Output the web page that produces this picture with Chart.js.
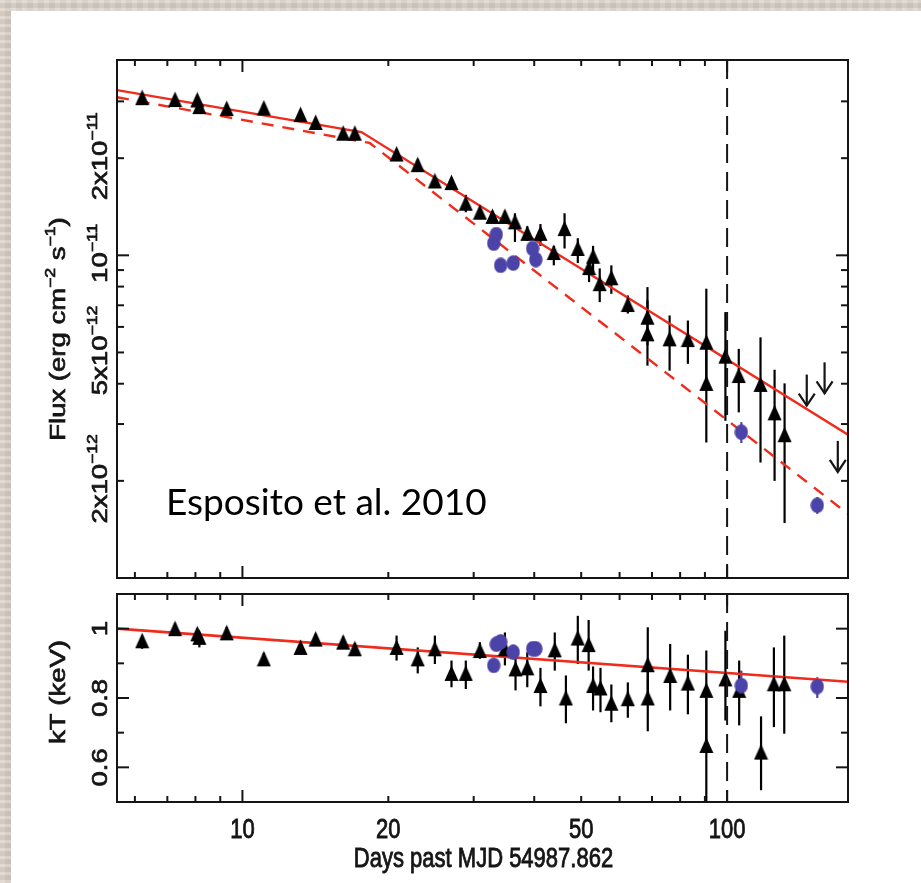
<!DOCTYPE html>
<html>
<head>
<meta charset="utf-8">
<script src="https://cdn.jsdelivr.net/npm/chart.js@4.4.1/dist/chart.umd.min.js"></script>
<style>
    html, body { margin: 0; padding: 0; }
    body {
        width: 921px; height: 883px; position: relative; overflow: hidden;
        background:
            repeating-linear-gradient(0deg, rgba(255,255,255,0.18) 0 3px, rgba(90,70,60,0.06) 3px 8px),
            repeating-linear-gradient(90deg, rgba(255,255,255,0.10) 0 5px, rgba(90,70,60,0.05) 5px 11px),
            #d7cfc6;
    }
    #sheet { position: absolute; left: 11px; top: 11px; right: 0; bottom: 0; background: #fff; }
    canvas { position: absolute; left: 0; }
    #fluxCanvas { top: 0; }
    #ktCanvas { top: 586px; }
    #cite {
        position: absolute; left: 166px; top: 482px;
        font: 37px Lato, "Open Sans", sans-serif; color: #000; line-height: 1; white-space: nowrap;
    }
</style>
</head>
<body>
<div id="sheet"></div>
<canvas id="fluxCanvas" width="921" height="590"></canvas>
<canvas id="ktCanvas" width="921" height="297"></canvas>
<div id="cite">Esposito et al. 2010</div>

<script>
// ---- time axis (days past MJD 54987.862) ----
const X_MIN = 5.511;
const X_MAX = 177.6;
const xMinorTicks = [6, 7, 8, 9, 20, 30, 40, 50, 60, 70, 80, 90];
const xMajorTicks = [10, 100];
const xLabelTicks = [10, 20, 50, 100];
const REF_DAY = 100;   // vertical dashed marker

// ---- flux panel: Swift triangles ----
const fluxDays = [6.21, 7.26, 8.07, 8.15, 9.28, 11.07, 13.18, 14.16, 16.14, 17.06,
                  20.8, 23.0, 24.95, 27.0, 28.9, 30.9, 32.8, 34.8, 36.5, 38.7,
                  41.2, 43.9, 46.2, 49.2, 51.9, 52.9, 54.6, 57.7, 62.4, 68.5,
                  68.5, 76.1, 83.0, 90.6, 90.6, 99.2, 105.7, 117.2, 125.3, 131.4];
const fluxValues = [3.08e-11, 3.04e-11, 3.03e-11, 2.89e-11, 2.85e-11, 2.86e-11, 2.73e-11, 2.58e-11, 2.39e-11, 2.39e-11,
                    2.06e-11, 1.91e-11, 1.70e-11, 1.68e-11, 1.45e-11, 1.36e-11, 1.32e-11, 1.32e-11, 1.27e-11, 1.17e-11,
                    1.17e-11, 1.02e-11, 1.21e-11, 1.05e-11, 9.16e-12, 9.93e-12, 8.17e-12, 8.52e-12, 7.04e-12, 6.43e-12,
                    5.71e-12, 5.51e-12, 5.48e-12, 5.38e-12, 4.01e-12, 4.87e-12, 4.24e-12, 3.98e-12, 3.25e-12, 2.78e-12];
const fluxLow = [3.00e-11, 2.96e-11, 2.95e-11, 2.81e-11, 2.77e-11, 2.78e-11, 2.65e-11, 2.50e-11, 2.32e-11, 2.32e-11,
                 1.99e-11, 1.84e-11, 1.64e-11, 1.62e-11, 1.36e-11, 1.31e-11, 1.27e-11, 1.27e-11, 1.10e-11, 1.11e-11,
                 1.07e-11, 9.31e-12, 1.05e-11, 9.46e-12, 8.26e-12, 8.67e-12, 7.16e-12, 7.60e-12, 6.60e-12, 5.26e-12,
                 4.55e-12, 4.39e-12, 4.61e-12, 4.00e-12, 2.63e-12, 3.07e-12, 3.26e-12, 2.28e-12, 2.00e-12, 1.48e-12];
const fluxHigh = [3.16e-11, 3.12e-11, 3.11e-11, 2.97e-11, 2.93e-11, 2.94e-11, 2.81e-11, 2.66e-11, 2.46e-11, 2.46e-11,
                  2.13e-11, 1.98e-11, 1.76e-11, 1.74e-11, 1.54e-11, 1.41e-11, 1.37e-11, 1.37e-11, 1.35e-11, 1.23e-11,
                  1.25e-11, 1.07e-11, 1.35e-11, 1.13e-11, 9.65e-12, 1.07e-11, 9.11e-12, 9.31e-12, 7.51e-12, 7.97e-12,
                  7.25e-12, 6.51e-12, 6.28e-12, 7.88e-12, 5.40e-12, 6.67e-12, 5.13e-12, 5.57e-12, 4.42e-12, 4.01e-12];

// ---- flux panel: XMM circles ----
const xmmDays = [33.0, 33.4, 34.1, 36.2, 39.7, 40.3, 107, 153.5];
const xmmFlux = [1.09e-11, 1.16e-11, 9.31e-12, 9.46e-12, 1.05e-11, 9.70e-12, 2.83e-12, 1.68e-12];
const xmmFluxLow = [1.04e-11, 1.11e-11, 8.90e-12, 9.05e-12, 1.00e-11, 9.25e-12, 2.62e-12, 1.58e-12];
const xmmFluxHigh = [1.14e-11, 1.21e-11, 9.72e-12, 9.87e-12, 1.10e-11, 1.02e-11, 3.04e-12, 1.78e-12];

// ---- flux panel: upper limits ----
const limitDays = [146, 158.9, 169.2];
const limitFlux = [4.27e-12, 4.66e-12, 2.66e-12];

// ---- flux panel: broken power-law models ----
const modelDays = [5.511, 17.6, 177.6];
const modelFlux = [3.25e-11, 2.41e-11, 2.78e-12];
const modelDashDays = [5.511, 18.3, 177.6];
const modelDashFlux = [3.09e-11, 2.23e-11, 1.58e-12];

const fluxMinorTicks = [2e-12, 3e-12, 4e-12, 5e-12, 6e-12, 7e-12, 8e-12, 9e-12, 2e-11, 3e-11];
const fluxMajorTicks = [1e-11];
const fluxTickLabels = [
    { v: 2e-11, parts: [{ t: '2x10' }, { t: '\u221211', sup: true }] },
    { v: 1e-11, parts: [{ t: '10' }, { t: '\u221211', sup: true }] },
    { v: 5e-12, parts: [{ t: '5x10' }, { t: '\u221212', sup: true }] },
    { v: 2e-12, parts: [{ t: '2x10' }, { t: '\u221212', sup: true }] }
];

// ---- kT panel ----
const ktDays = [6.21, 7.26, 8.07, 8.15, 9.28, 11.07, 13.18, 14.16, 16.14, 17.06,
                20.8, 23.0, 24.95, 27.0, 28.9, 30.9, 34.8, 36.6, 38.7, 41.2,
                44.1, 46.5, 49.2, 51.8, 52.9, 54.8, 57.7, 62.4, 68.6, 68.6,
                76.3, 83.0, 90.6, 90.6, 99.2, 105.9, 117.5, 124.9, 131.2];
const ktValues = [0.965, 1.0, 0.985, 0.975, 0.988, 0.913, 0.946, 0.970, 0.961, 0.942,
                  0.946, 0.913, 0.942, 0.871, 0.871, 0.937, 0.942, 0.884, 0.887, 0.836,
                  0.939, 0.800, 0.973, 0.954, 0.836, 0.829, 0.785, 0.798, 0.896, 0.800,
                  0.865, 0.843, 0.822, 0.663, 0.855, 0.822, 0.644, 0.841, 0.841];
const ktLow = [0.942, 0.985, 0.970, 0.946, 0.970, 0.895, 0.930, 0.955, 0.945, 0.926,
               0.908, 0.871, 0.898, 0.831, 0.826, 0.913, 0.894, 0.822, 0.831, 0.776,
               0.879, 0.727, 0.898, 0.879, 0.764, 0.759, 0.730, 0.743, 0.800, 0.704,
               0.764, 0.753, 0.663, 0.450, 0.735, 0.721, 0.534, 0.716, 0.697];
const ktHigh = [0.980, 1.015, 1.000, 0.990, 1.005, 0.930, 0.962, 0.985, 0.977, 0.958,
                0.980, 0.946, 0.980, 0.908, 0.908, 0.961, 0.989, 0.922, 0.932, 0.887,
                0.989, 0.865, 1.037, 1.025, 0.891, 0.887, 0.839, 0.845, 1.004, 0.896,
                0.956, 0.925, 0.937, 0.800, 0.994, 0.908, 0.747, 0.946, 0.980];

const xmmKt = [0.894, 0.955, 0.962, 0.932, 0.942, 0.942, 0.836, 0.833];
const xmmKtLow = [0.874, 0.935, 0.942, 0.912, 0.925, 0.925, 0.802, 0.800];
const xmmKtHigh = [0.914, 0.975, 0.982, 0.952, 0.959, 0.959, 0.879, 0.860];

const ktModelDays = [5.511, 177.6];
const ktModelValues = [1.0, 0.847];

const ktMinorTicks = [0.7, 0.9];
const ktMajorTicks = [0.6, 0.8, 1.0];
const ktTickLabels = [
    { v: 1.0, parts: [{ t: '1' }] },
    { v: 0.8, parts: [{ t: '0.8' }] },
    { v: 0.6, parts: [{ t: '0.6' }] }
];

// ---- styles ----
const RED = '#f02b1c';
const BLUE = '#4c43a8';
const INK = '#151515';
const FONT = '"Liberation Sans", Arial, sans-serif';
const LABEL_SIZE = 22;
const STRETCH = 1.25;     // the figure is taller than it is wide: glyphs and markers stretched vertically

function pairs(xs, ys) {
    return xs.map((x, i) => ({ x: x, y: ys[i] }));
}

// marker sprites, a little taller than wide
function sprite(w, h, draw) {
    const c = document.createElement('canvas');
    c.width = w; c.height = h;
    const g = c.getContext('2d');
    draw(g, w, h);
    return c;
}
const triangleMark = sprite(15, 17, (g, w, h) => {
    g.fillStyle = '#000';
    g.beginPath();
    g.moveTo(w / 2, 0.5);
    g.lineTo(w - 0.5, h - 1);
    g.lineTo(0.5, h - 1);
    g.closePath();
    g.fill();
});
const circleMark = sprite(14, 16, (g, w, h) => {
    g.fillStyle = BLUE;
    g.beginPath();
    g.ellipse(w / 2, h / 2, w / 2 - 0.3, h / 2 - 0.3, 0, 0, Math.PI * 2);
    g.fill();
});

// text pieces, superscripts smaller and raised
function runWidth(ctx, parts, size) {
    let w = 0;
    parts.forEach(p => {
        ctx.font = (p.sup ? size * 0.64 : size) + 'px ' + FONT;
        w += ctx.measureText(p.t).width;
    });
    return w;
}

function drawRun(ctx, parts, size, x, y) {
    ctx.lineWidth = 0.7;
    ctx.strokeStyle = INK;
    parts.forEach(p => {
        const s = p.sup ? size * 0.64 : size;
        const py = p.sup ? y - size * 0.45 : y;
        ctx.font = s + 'px ' + FONT;
        ctx.fillText(p.t, x, py);
        ctx.strokeText(p.t, x, py);
        x += ctx.measureText(p.t).width;
    });
}

// rotated to read bottom-to-top; baseline on the x = bx line, centred on cy
function drawVertical(ctx, parts, size, bx, cy) {
    ctx.save();
    ctx.translate(bx, cy);
    ctx.rotate(-Math.PI / 2);
    ctx.scale(STRETCH, 1);
    ctx.textAlign = 'left';
    ctx.textBaseline = 'alphabetic';
    ctx.fillStyle = INK;
    drawRun(ctx, parts, size, -runWidth(ctx, parts, size) / 2, 0);
    ctx.restore();
}

// horizontal text centred on cx, baseline at by
function drawHorizontal(ctx, text, size, cx, by) {
    ctx.save();
    ctx.translate(cx, by);
    ctx.scale(1, STRETCH);
    ctx.textAlign = 'left';
    ctx.textBaseline = 'alphabetic';
    ctx.fillStyle = INK;
    const parts = [{ t: text }];
    drawRun(ctx, parts, size, -runWidth(ctx, parts, size) / 2, 0);
    ctx.restore();
}

function line(ctx, x1, y1, x2, y2) {
    ctx.beginPath();
    ctx.moveTo(x1, y1);
    ctx.lineTo(x2, y2);
    ctx.stroke();
}

// error bars for every dataset carrying errLow / errHigh
const errorBars = {
    id: 'errorBars',
    beforeDatasetsDraw(chart) {
        const { ctx, chartArea: a, scales: { x, y } } = chart;
        ctx.save();
        ctx.beginPath();
        ctx.rect(a.left, a.top, a.right - a.left, a.bottom - a.top);
        ctx.clip();
        chart.data.datasets.forEach(ds => {
            if (!ds.errLow) return;
            ctx.strokeStyle = ds.barColor;
            ctx.lineWidth = 2.2;
            ds.data.forEach((p, i) => {
                const px = x.getPixelForValue(p.x);
                line(ctx, px, y.getPixelForValue(ds.errLow[i]), px, y.getPixelForValue(ds.errHigh[i]));
            });
        });
        ctx.restore();
    }
};

// dashed marker at day 100
const refLine = {
    id: 'refLine',
    afterDatasetsDraw(chart) {
        const { ctx, chartArea: a, scales: { x } } = chart;
        const px = x.getPixelForValue(REF_DAY);
        ctx.save();
        ctx.strokeStyle = INK;
        ctx.lineWidth = 2;
        ctx.setLineDash([19, 9]);
        line(ctx, px, a.top, px, a.bottom);
        ctx.restore();
    }
};

// downward arrows for the flux upper limits
const upperLimits = {
    id: 'upperLimits',
    afterDatasetsDraw(chart) {
        const { ctx, scales: { x, y } } = chart;
        ctx.save();
        ctx.strokeStyle = INK;
        ctx.lineWidth = 2.2;
        limitDays.forEach((d, i) => {
            const px = x.getPixelForValue(d);
            const top = y.getPixelForValue(limitFlux[i]);
            const tip = top + 31;
            line(ctx, px, top, px, tip);
            ctx.beginPath();
            ctx.moveTo(px - 8, tip - 12);
            ctx.lineTo(px, tip);
            ctx.lineTo(px + 8, tip - 12);
            ctx.stroke();
        });
        ctx.restore();
    }
};

// box, inward ticks on all four sides, rotated y labels
function framePlugin(cfg) {
    return {
        id: 'frame',
        afterDraw(chart) {
            const { ctx, chartArea: a, scales: { x, y } } = chart;
            ctx.save();
            ctx.strokeStyle = INK;
            ctx.lineWidth = 2;
            ctx.strokeRect(a.left, a.top, a.right - a.left, a.bottom - a.top);

            const xTick = (v, len) => {
                const px = x.getPixelForValue(v);
                line(ctx, px, a.bottom, px, a.bottom - len);
                line(ctx, px, a.top, px, a.top + len);
            };
            const yTick = (v, len) => {
                const py = y.getPixelForValue(v);
                line(ctx, a.left, py, a.left + len, py);
                line(ctx, a.right, py, a.right - len, py);
            };
            xMinorTicks.forEach(v => xTick(v, 6));
            xMajorTicks.forEach(v => xTick(v, 12));
            cfg.minorY.forEach(v => yTick(v, 7));
            cfg.majorY.forEach(v => yTick(v, 12));

            cfg.yLabels.forEach(l => drawVertical(ctx, l.parts, LABEL_SIZE, 107, y.getPixelForValue(l.v) + cfg.labelShift));
            drawVertical(ctx, cfg.title, LABEL_SIZE, 65, (a.top + a.bottom) / 2 + cfg.titleShift);

            if (cfg.xLabels) {
                xLabelTicks.forEach(v => drawHorizontal(ctx, String(v), LABEL_SIZE, x.getPixelForValue(v), a.bottom + 36));
                drawHorizontal(ctx, 'Days past MJD 54987.862', LABEL_SIZE, (a.left + a.right) / 2 + 1, a.bottom + 65);
            }
            ctx.restore();
        }
    };
}

const xScale = { type: 'logarithmic', min: X_MIN, max: X_MAX, display: false };
const baseOptions = {
    responsive: false,
    animation: false,
    devicePixelRatio: 1,
    plugins: { legend: { display: false }, tooltip: { enabled: false } }
};

// upper panel: flux light curve
new Chart(document.getElementById('fluxCanvas'), {
    type: 'scatter',
    data: {
        datasets: [
            { data: pairs(xmmDays, xmmFlux), pointStyle: circleMark, barColor: BLUE,
              errLow: xmmFluxLow, errHigh: xmmFluxHigh, order: 0 },
            { data: pairs(fluxDays, fluxValues), pointStyle: triangleMark, barColor: '#000',
              errLow: fluxLow, errHigh: fluxHigh, order: 1 },
            { type: 'line', data: pairs(modelDays, modelFlux), borderColor: RED, borderWidth: 2.4,
              pointRadius: 0, fill: false, order: 2 },
            { type: 'line', data: pairs(modelDashDays, modelDashFlux), borderColor: RED, borderWidth: 2.4,
              borderDash: [12, 9], pointRadius: 0, fill: false, order: 2 }
        ]
    },
    options: Object.assign({}, baseOptions, {
        layout: { padding: { left: 117, top: 60, right: 73, bottom: 12 } },
        scales: {
            x: xScale,
            y: { type: 'logarithmic', min: 1e-12, max: 4.03e-11, display: false }
        }
    }),
    plugins: [errorBars, upperLimits, refLine, framePlugin({
        minorY: fluxMinorTicks,
        majorY: fluxMajorTicks,
        yLabels: fluxTickLabels,
        labelShift: -2,
        title: [{ t: 'Flux (erg cm' }, { t: '\u22122', sup: true }, { t: ' s' }, { t: '\u22121', sup: true }, { t: ')' }],
        titleShift: 10
    })]
});

// lower panel: blackbody temperature
new Chart(document.getElementById('ktCanvas'), {
    type: 'scatter',
    data: {
        datasets: [
            { data: pairs(xmmDays, xmmKt), pointStyle: circleMark, barColor: BLUE,
              errLow: xmmKtLow, errHigh: xmmKtHigh, order: 0 },
            { data: pairs(ktDays, ktValues), pointStyle: triangleMark, barColor: '#000',
              errLow: ktLow, errHigh: ktHigh, order: 1 },
            { type: 'line', data: pairs(ktModelDays, ktModelValues), borderColor: RED, borderWidth: 2.6,
              pointRadius: 0, fill: false, order: 2 }
        ]
    },
    options: Object.assign({}, baseOptions, {
        layout: { padding: { left: 117, top: 8, right: 73, bottom: 81 } },
        scales: {
            x: xScale,
            y: { type: 'linear', min: 0.5, max: 1.1, display: false }
        }
    }),
    plugins: [errorBars, refLine, framePlugin({
        minorY: ktMinorTicks,
        majorY: ktMajorTicks,
        yLabels: ktTickLabels,
        labelShift: 0,
        title: [{ t: 'kT (keV)' }],
        titleShift: -6,
        xLabels: true
    })]
});
</script>
</body>
</html>
